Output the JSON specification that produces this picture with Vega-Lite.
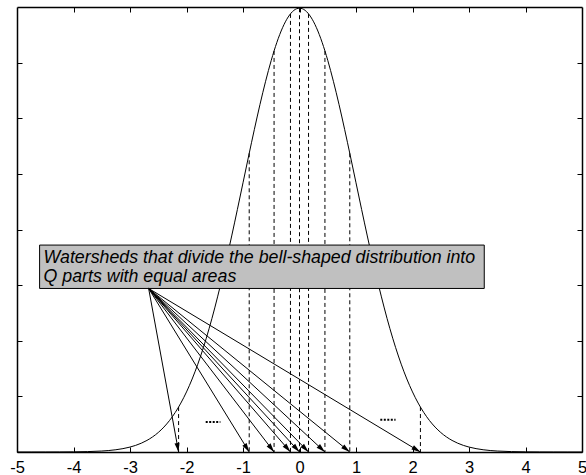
{
  "$schema": "https://vega.github.io/schema/vega-lite/v6.json",
  "width": 565,
  "height": 445,
  "autosize": "none",
  "padding": {"left": 17, "top": 7, "right": 4, "bottom": 23},
  "background": "white",
  "config": {
    "view": {"stroke": null},
    "axis": {
      "domainColor": "black",
      "domainWidth": 1.5,
      "tickColor": "black",
      "tickWidth": 1,
      "tickSize": -5,
      "grid": false,
      "labelFont": "Liberation Sans",
      "labelFontSize": 16,
      "labelColor": "black",
      "title": null
    }
  },
  "datasets": {
    "curve": [
      {"x": -5, "y": 0.0000015}, {"x": -4.75, "y": 0.0000051}, {"x": -4.5, "y": 0.000016}, {"x": -4.25, "y": 0.000049},
      {"x": -4, "y": 0.000134}, {"x": -3.75, "y": 0.000353}, {"x": -3.5, "y": 0.000873}, {"x": -3.25, "y": 0.00203},
      {"x": -3.0, "y": 0.004432}, {"x": -2.9, "y": 0.005953}, {"x": -2.8, "y": 0.007915}, {"x": -2.7, "y": 0.010421},
      {"x": -2.6, "y": 0.013583}, {"x": -2.5, "y": 0.017528}, {"x": -2.4, "y": 0.022395}, {"x": -2.3, "y": 0.028327},
      {"x": -2.2, "y": 0.035475}, {"x": -2.1, "y": 0.043984}, {"x": -2.0, "y": 0.053991}, {"x": -1.9, "y": 0.065616},
      {"x": -1.8, "y": 0.07895}, {"x": -1.7, "y": 0.094049}, {"x": -1.6, "y": 0.110921}, {"x": -1.5, "y": 0.129518},
      {"x": -1.4, "y": 0.149727}, {"x": -1.3, "y": 0.171369}, {"x": -1.2, "y": 0.194186}, {"x": -1.1, "y": 0.217852},
      {"x": -1.0, "y": 0.241971}, {"x": -0.9, "y": 0.266085}, {"x": -0.8, "y": 0.289692}, {"x": -0.7, "y": 0.312254},
      {"x": -0.6, "y": 0.333225}, {"x": -0.5, "y": 0.352065}, {"x": -0.4, "y": 0.36827}, {"x": -0.3, "y": 0.381388},
      {"x": -0.2, "y": 0.391043}, {"x": -0.1, "y": 0.396953}, {"x": 0, "y": 0.398942},
      {"x": 0.1, "y": 0.396953}, {"x": 0.2, "y": 0.391043}, {"x": 0.3, "y": 0.381388}, {"x": 0.4, "y": 0.36827},
      {"x": 0.5, "y": 0.352065}, {"x": 0.6, "y": 0.333225}, {"x": 0.7, "y": 0.312254}, {"x": 0.8, "y": 0.289692},
      {"x": 0.9, "y": 0.266085}, {"x": 1.0, "y": 0.241971}, {"x": 1.1, "y": 0.217852}, {"x": 1.2, "y": 0.194186},
      {"x": 1.3, "y": 0.171369}, {"x": 1.4, "y": 0.149727}, {"x": 1.5, "y": 0.129518}, {"x": 1.6, "y": 0.110921},
      {"x": 1.7, "y": 0.094049}, {"x": 1.8, "y": 0.07895}, {"x": 1.9, "y": 0.065616}, {"x": 2.0, "y": 0.053991},
      {"x": 2.1, "y": 0.043984}, {"x": 2.2, "y": 0.035475}, {"x": 2.3, "y": 0.028327}, {"x": 2.4, "y": 0.022395},
      {"x": 2.5, "y": 0.017528}, {"x": 2.6, "y": 0.013583}, {"x": 2.7, "y": 0.010421}, {"x": 2.8, "y": 0.007915},
      {"x": 2.9, "y": 0.005953}, {"x": 3.0, "y": 0.004432}, {"x": 3.25, "y": 0.00203}, {"x": 3.5, "y": 0.000873},
      {"x": 3.75, "y": 0.000353}, {"x": 4, "y": 0.000134}, {"x": 4.25, "y": 0.000049}, {"x": 4.5, "y": 0.000016},
      {"x": 4.75, "y": 0.0000051}, {"x": 5, "y": 0.0000015}
    ],
    "quant": [
      {"q": -2.14, "top": 0.0404},
      {"q": -0.89, "top": 0.2685},
      {"q": -0.45, "top": 0.3605},
      {"q": -0.16, "top": 0.3938},
      {"q": 0, "top": 0.3989},
      {"q": 0.16, "top": 0.3938},
      {"q": 0.45, "top": 0.3605},
      {"q": 0.89, "top": 0.2685},
      {"q": 2.14, "top": 0.0404}
    ],
    "arrows": [
      {"q": -2.14, "ox": -2.67, "oy": 0.147},
      {"q": -0.89, "ox": -2.67, "oy": 0.147},
      {"q": -0.45, "ox": -2.67, "oy": 0.147},
      {"q": -0.16, "ox": -2.67, "oy": 0.147},
      {"q": 0, "ox": -2.67, "oy": 0.147},
      {"q": 0.16, "ox": -2.67, "oy": 0.147},
      {"q": 0.45, "ox": -2.67, "oy": 0.147},
      {"q": 0.89, "ox": -2.67, "oy": 0.147},
      {"q": 2.14, "ox": -2.67, "oy": 0.147}
    ],
    "dots": [
      {"x1": -1.66, "x2": -1.40, "y": 0.027},
      {"x1": 1.43, "x2": 1.70, "y": 0.029}
    ],
    "box": [
      {"x1": -4.6, "x2": 3.27, "y1": 0.147, "y2": 0.186}
    ],
    "note": [
      {"tx": -4.53, "ty": 0.1696, "label": "Watersheds that divide the bell-shaped distribution into\nQ parts with equal areas"}
    ]
  },
  "layer": [
    {
      "data": {"name": "curve"},
      "mark": {"type": "line", "color": "black", "strokeWidth": 1, "interpolate": "monotone"},
      "encoding": {
        "x": {"field": "x", "type": "quantitative", "scale": {"domain": [-5, 5], "nice": false, "zero": false},
              "axis": {"orient": "bottom", "values": [-5, -4, -3, -2, -1, 0, 1, 2, 3, 4, 5], "labelPadding": 12, "labelFlush": false,
                       "labelExpr": "'' + datum.value", "labelFontSize": 16.5, "labelFont": "Liberation Sans", "labelColor": "black"}},
        "y": {"field": "y", "type": "quantitative", "scale": {"domain": [0, 0.4], "nice": false},
              "axis": {"orient": "left", "values": [0.05, 0.1, 0.15, 0.2, 0.25, 0.3, 0.35], "labels": false}}
      }
    },
    {
      "data": {"name": "quant"},
      "mark": {"type": "rule", "color": "black", "strokeWidth": 1, "strokeDash": [4, 3]},
      "encoding": {
        "x": {"field": "q", "type": "quantitative",
              "axis": {"orient": "top", "values": [-4, -3, -2, -1, 0, 1, 2, 3, 4], "labels": false}},
        "y": {"field": "top", "type": "quantitative",
              "axis": {"orient": "right", "values": [0.05, 0.1, 0.15, 0.2, 0.25, 0.3, 0.35], "labels": false}},
        "y2": {"datum": 0}
      }
    },
    {
      "data": {"name": "box"},
      "mark": {"type": "rect", "fill": "#c0c0c0", "stroke": "black", "strokeWidth": 1},
      "encoding": {
        "x": {"field": "x1", "type": "quantitative", "axis": null},
        "x2": {"field": "x2"},
        "y": {"field": "y1", "type": "quantitative", "axis": null},
        "y2": {"field": "y2"}
      }
    },
    {
      "data": {"name": "note"},
      "mark": {"type": "text", "align": "left", "baseline": "alphabetic", "font": "Liberation Sans", "fontStyle": "italic", "fontSize": 17.8, "lineBreak": "\n", "lineHeight": 19, "color": "black"},
      "encoding": {
        "x": {"field": "tx", "type": "quantitative", "axis": null},
        "y": {"field": "ty", "type": "quantitative", "axis": null},
        "text": {"field": "label"}
      }
    },
    {
      "data": {"name": "arrows"},
      "mark": {"type": "rule", "color": "black", "strokeWidth": 1},
      "encoding": {
        "x": {"field": "ox", "type": "quantitative", "axis": null},
        "y": {"field": "oy", "type": "quantitative", "axis": null},
        "x2": {"field": "q"},
        "y2": {"datum": 0}
      }
    },
    {
      "data": {"name": "arrows"},
      "transform": [
        {"calculate": "atan2((datum.q - datum.ox) * width / 10, -datum.oy * height / 0.4) * 180 / PI", "as": "ang"}
      ],
      "mark": {"type": "point", "shape": "M0,0L-0.5,1.8L0.5,1.8Z", "filled": true, "color": "black", "opacity": 1, "size": 100, "strokeWidth": 0},
      "encoding": {
        "x": {"field": "q", "type": "quantitative", "axis": null},
        "y": {"datum": 0, "type": "quantitative", "axis": null},
        "angle": {"field": "ang", "type": "quantitative", "scale": null}
      }
    },
    {
      "data": {"name": "dots"},
      "mark": {"type": "rule", "color": "black", "strokeWidth": 2, "strokeDash": [2, 1.5]},
      "encoding": {
        "x": {"field": "x1", "type": "quantitative", "axis": null},
        "x2": {"field": "x2"},
        "y": {"field": "y", "type": "quantitative", "axis": null}
      }
    }
  ],
  "resolve": {"axis": {"x": "independent", "y": "independent"}}
}
